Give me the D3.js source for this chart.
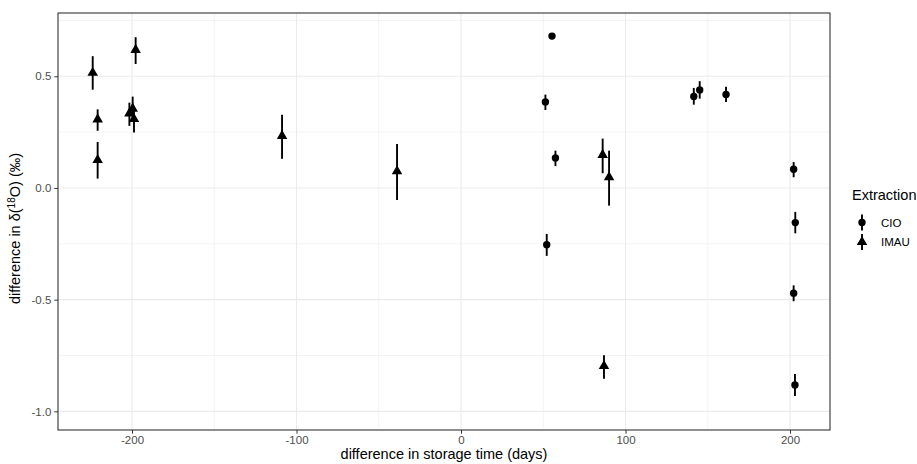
<!DOCTYPE html>
<html>
<head>
<meta charset="utf-8">
<script src="https://cdn.jsdelivr.net/npm/d3@7"></script>
<style>
  body { margin: 0; background: #fff; }
  svg { font-family: "Liberation Sans", Arial, Helvetica, sans-serif; }
</style>
</head>
<body>
<svg id="chart" width="917" height="464"></svg>
<script>
// ---- data ----
const cioX    = [55.3, 51.3, 57.4, 52.1, 141.5, 145.1, 161.1, 202.2, 203.2, 202.2, 203.0];
const cioY    = [0.680, 0.385, 0.134, -0.254, 0.410, 0.439, 0.419, 0.084, -0.155, -0.471, -0.882];
const cioLo   = [0.670, 0.349, 0.098, -0.304, 0.373, 0.400, 0.385, 0.048, -0.203, -0.507, -0.931];
const cioHi   = [0.690, 0.418, 0.167, -0.206, 0.448, 0.478, 0.453, 0.116, -0.107, -0.436, -0.833];

const imauX   = [-223.9, -220.9, -220.9, -201.6, -199.6, -198.8, -197.8, -108.8, -38.9, 86.1, 90.0, 86.9];
const imauY   = [0.516, 0.307, 0.125, 0.334, 0.355, 0.309, 0.618, 0.233, 0.075, 0.148, 0.048, -0.797];
const imauLo  = [0.440, 0.256, 0.042, 0.278, 0.300, 0.248, 0.555, 0.131, -0.054, 0.066, -0.079, -0.854];
const imauHi  = [0.590, 0.352, 0.206, 0.382, 0.409, 0.346, 0.675, 0.328, 0.197, 0.221, 0.167, -0.749];

const xTicks = [-200, -100, 0, 100, 200];
const xMinor = [-150, -50, 50, 150];
const yTicks = [-1.0, -0.5, 0.0, 0.5];
const yMinor = [-0.75, -0.25, 0.25, 0.75];
const groups = ["CIO", "IMAU"];

// ---- layout ----
const svg = d3.select("#chart");
const L = 58, R = 830, T = 13, B = 430;
const x = d3.scaleLinear().domain([-245, 224.3]).range([L, R]);
const y = d3.scaleLinear().domain([-1.0836, 0.7834]).range([B, T]);

// grid
const g = svg.append("g");
g.selectAll(".vminor").data(xMinor).enter().append("line")
  .attr("x1", d => x(d)).attr("x2", d => x(d)).attr("y1", T).attr("y2", B)
  .attr("stroke", "#ebebeb").attr("stroke-width", 0.6);
g.selectAll(".hminor").data(yMinor).enter().append("line")
  .attr("y1", d => y(d)).attr("y2", d => y(d)).attr("x1", L).attr("x2", R)
  .attr("stroke", "#ebebeb").attr("stroke-width", 0.6);
g.selectAll(".vmajor").data(xTicks).enter().append("line")
  .attr("x1", d => x(d)).attr("x2", d => x(d)).attr("y1", T).attr("y2", B)
  .attr("stroke", "#ebebeb").attr("stroke-width", 1.1);
g.selectAll(".hmajor").data(yTicks).enter().append("line")
  .attr("y1", d => y(d)).attr("y2", d => y(d)).attr("x1", L).attr("x2", R)
  .attr("stroke", "#ebebeb").attr("stroke-width", 1.1);

// axes
const xAxis = svg.append("g").attr("transform", `translate(0,${B})`)
  .call(d3.axisBottom(x).tickValues(xTicks).tickSize(3.7).tickPadding(2).tickFormat(d3.format("d")));
const yAxis = svg.append("g").attr("transform", `translate(${L},0)`)
  .call(d3.axisLeft(y).tickValues(yTicks).tickSize(3.7).tickPadding(3).tickFormat(d3.format(".1f")));
[xAxis, yAxis].forEach(a => {
  a.select(".domain").remove();
  a.selectAll(".tick line").attr("stroke", "#333333").attr("stroke-width", 1);
  a.selectAll(".tick text").attr("fill", "#4d4d4d").style("font-size", "11.5px")
    .style("font-family", "'Liberation Sans', Arial, sans-serif");
});
yAxis.selectAll(".tick text").text(d => d3.format(".1f")(d).replace("−", "-"));
xAxis.selectAll(".tick text").text(d => String(d));

// panel border
svg.append("rect").attr("x", L).attr("y", T).attr("width", R - L).attr("height", B - T)
  .attr("fill", "none").attr("stroke", "#333333").attr("stroke-width", 1.1);

// data
const tri = d3.symbol().type(d3.symbolTriangle).size(48);
const plot = svg.append("g");
const imau = imauX.map((d, i) => ({x: d, y: imauY[i], lo: imauLo[i], hi: imauHi[i]}));
const cio = cioX.map((d, i) => ({x: d, y: cioY[i], lo: cioLo[i], hi: cioHi[i]}));

function drawSeries(data, shape) {
  const s = plot.append("g");
  data.forEach(d => {
    s.append("line").attr("x1", x(d.x)).attr("x2", x(d.x)).attr("y1", y(d.lo)).attr("y2", y(d.hi))
      .attr("stroke", "#000").attr("stroke-width", 1.9);
    if (shape === "circle") {
      s.append("circle").attr("cx", x(d.x)).attr("cy", y(d.y)).attr("r", 3.7).attr("fill", "#000");
    } else {
      s.append("path").attr("d", tri).attr("transform", `translate(${x(d.x)},${y(d.y)})`).attr("fill", "#000");
    }
  });
}
drawSeries(imau, "triangle");
drawSeries(cio, "circle");

// axis titles
svg.append("text").attr("x", (L + R) / 2).attr("y", 459).attr("text-anchor", "middle")
  .style("font-size", "14.5px").attr("fill", "#000").text("difference in storage time (days)");
const yt = svg.append("text").attr("transform", `translate(20,${(T + B) / 2 + 7}) rotate(-90)`)
  .attr("text-anchor", "middle").style("font-size", "14.5px").attr("fill", "#000");
yt.append("tspan").text("difference in δ(");
yt.append("tspan").attr("dy", -5).style("font-size", "10px").text("18");
yt.append("tspan").attr("dy", 5).text("O) (‰)");

// legend
const lg = svg.append("g");
lg.append("text").attr("x", 852).attr("y", 200).style("font-size", "14.5px").attr("fill", "#000").text("Extraction");
groups.forEach((name, i) => {
  const cy = 222.5 + i * 19.5;
  const cx = 862;
  lg.append("line").attr("x1", cx).attr("x2", cx).attr("y1", cy - 8).attr("y2", cy + 8)
    .attr("stroke", "#000").attr("stroke-width", 1.9);
  if (name === "CIO") {
    lg.append("circle").attr("cx", cx).attr("cy", cy).attr("r", 3.7).attr("fill", "#000");
  } else {
    lg.append("path").attr("d", tri).attr("transform", `translate(${cx},${cy})`).attr("fill", "#000");
  }
  lg.append("text").attr("x", 881).attr("y", cy + 4).style("font-size", "11.5px").attr("fill", "#000").text(name);
});
</script>
</body>
</html>
